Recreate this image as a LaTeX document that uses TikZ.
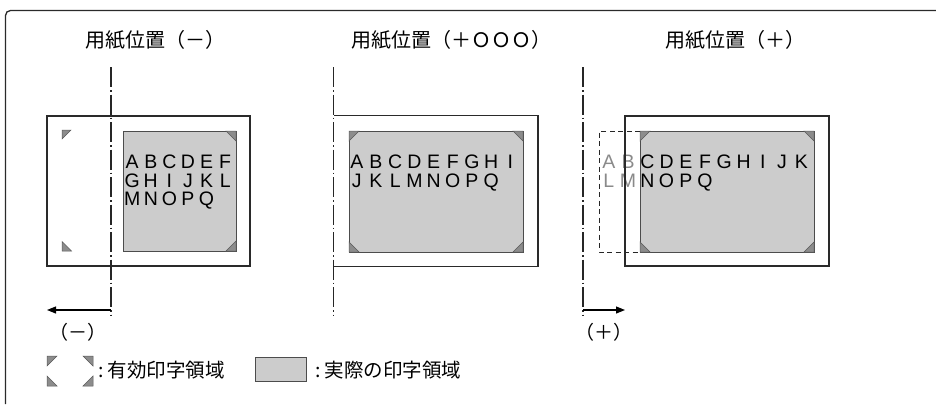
\documentclass[tikz,border=0pt]{standalone}
\usepackage{fontspec}
\setmainfont{Liberation Sans}
\newfontfamily\jp{Noto Sans CJK JP}
\usetikzlibrary{arrows.meta}
\definecolor{areagray}{HTML}{CCCCCC}
\definecolor{markgray}{HTML}{8C8C8C}
\definecolor{txtgray}{HTML}{8A8A8A}
\definecolor{linegray}{HTML}{2A2A2A}
\newlength\lpitch
\def\ltrs#1{\ifx#1\relax\else\makebox[\lpitch][c]{#1}\expandafter\ltrs\fi}
\tikzset{
  frame/.style={draw=linegray, line width=1.3pt, rounded corners=5pt},
  paper/.style={draw=linegray, line width=1.3pt},
  area/.style={draw=black!70, fill=areagray, line width=0.9pt},
  cmark/.style={fill=markgray, draw=black!65, line width=0.5pt},
  axisline/.style={draw=black!85, line width=1.1pt, dash pattern=on 20pt off 3pt on 1.5pt off 3pt},
  ghost/.style={draw=black!85, line width=1pt, dash pattern=on 5pt off 3.5pt},
  shiftarrow/.style={draw=black, line width=1.1pt, -{Triangle[length=9pt,width=7pt]}},
  letters/.style={font=\fontsize{19.5}{19.5}\selectfont, inner sep=0pt, anchor=base west},
  title/.style={font=\jp\fontsize{20}{20}\selectfont, inner sep=0pt, anchor=base west},
  legend/.style={font=\jp\fontsize{19.5}{19.5}\selectfont, inner sep=0pt, anchor=west},
  sign/.style={font=\jp\fontsize{19}{19}\selectfont, inner sep=0pt},
}
\begin{document}
\begin{tikzpicture}[x=1pt,y=-1pt]
\useasboundingbox (0,0) rectangle (936,404);
% outer frame (only top and left visible)
\draw[frame] (5.5,404) -- (5.5,10.5) -- (936,10.5);

% ---------- titles ----------
\node[title] (t1) at (85.5,47.5) {用紙位置（－）};
\node[title] (t2) at (351.5,47.5) {用紙位置（＋ＯＯＯ）};
\node[title] (t3) at (665.5,47.5) {用紙位置（＋）};

% ---------- panel 1 ----------
\draw[area] (123,131) rectangle (236,251);
\draw[cmark] (236,131) -- (226,131) -- (236,141) -- cycle;
\draw[cmark] (236,251) -- (236,241) -- (226,251) -- cycle;
\draw[cmark] (62,130) -- (71,130) -- (62,139) -- cycle;
\draw[cmark] (62,251) -- (62,241.5) -- (71.5,251) -- cycle;
\node[letters] (p1a) at (122.7,168.5) {\setlength\lpitch{18.6pt}\ltrs ABCDEF\relax};
\node[letters] (p1b) at (122.7,187) {\setlength\lpitch{18.6pt}\ltrs GHIJKL\relax};
\node[letters] (p1c) at (122.7,205.5) {\setlength\lpitch{18.6pt}\ltrs MNOPQ\relax};
\draw[paper] (47,116) rectangle (250,266);
\draw[axisline] (111,67) -- (111,315);
\coordinate (s1) at (111,310);
\coordinate (e1) at (47,310);
\draw[shiftarrow] (s1) -- (e1);
\node[sign] (l1) at (78,332) {（－）};

% ---------- panel 2 ----------
\draw[area] (349,131) rectangle (523,252);
\draw[cmark] (349,131) -- (359,131) -- (349,141) -- cycle;
\draw[cmark] (523,131) -- (513,131) -- (523,141) -- cycle;
\draw[cmark] (349,252) -- (349,242) -- (359,252) -- cycle;
\draw[cmark] (523,252) -- (523,242) -- (513,252) -- cycle;
\node[letters] (p2a) at (347,168.5) {\setlength\lpitch{19.2pt}\ltrs ABCDEFGHI\relax};
\node[letters] (p2b) at (347,187) {\setlength\lpitch{19.2pt}\ltrs JKLMNOPQ\relax};
\draw[paper] (334,115.5) -- (538,115.5) -- (538,266.5) -- (334,266.5);
\draw[axisline] (333.5,67) -- (333.5,315);

% ---------- panel 3 ----------
\draw[area] (640,131) rectangle (814,252);
\draw[cmark] (640,131) -- (650,131) -- (640,141) -- cycle;
\draw[cmark] (814,131) -- (804,131) -- (814,141) -- cycle;
\draw[cmark] (640,252) -- (640,242) -- (650,252) -- cycle;
\draw[cmark] (814,252) -- (814,242) -- (804,252) -- cycle;
\draw[ghost] (640,131) -- (599,131) -- (599,252) -- (640,252);
\node[letters] (p3a) at (599,168.5) {\setlength\lpitch{19.25pt}{\color{txtgray}\ltrs AB\relax}\ltrs CDEFGHIJK\relax};
\node[letters] (p3b) at (599,187) {\setlength\lpitch{19.25pt}{\color{txtgray}\ltrs LM\relax}\ltrs NOPQ\relax};
\draw[paper] (625,116) rectangle (829,266);
\draw[axisline] (583,67) -- (583,315);
\coordinate (s3) at (583,310);
\coordinate (e3) at (625,310);
\draw[shiftarrow] (s3) -- (e3);
\node[sign] (l3) at (604,332) {（＋）};

% ---------- legend ----------
\draw[cmark] (47,356) -- (57,356) -- (47,366) -- cycle;
\draw[cmark] (93,356) -- (83,356) -- (93,366) -- cycle;
\draw[cmark] (47,386) -- (47,376) -- (57,386) -- cycle;
\draw[cmark] (93,386) -- (93,376) -- (83,386) -- cycle;
\node[legend] (g1) at (98,370) {:\hspace{4pt}有効印字領域};
\draw[area] (255.5,357.5) rectangle (306.5,381);
\node[legend] (g2) at (315,370) {:\hspace{4pt}実際の印字領域};
\end{tikzpicture}
\end{document}
